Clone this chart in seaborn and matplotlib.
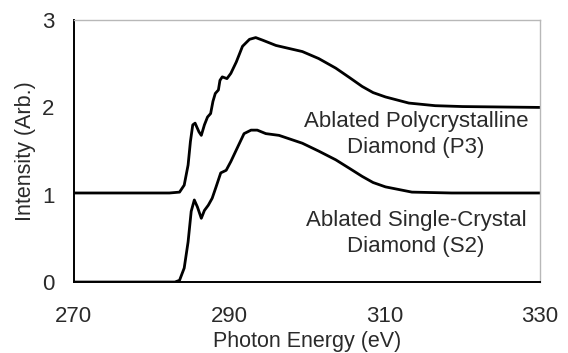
import pandas as pd
import seaborn as sns
import matplotlib.pyplot as plt

sns.set_style("white")
plt.rcParams['font.family'] = ['Liberation Sans', 'DejaVu Sans']

# Ablated polycrystalline diamond (P3), offset by +1
energy_p3 = [270, 282.3, 283.6, 284.2, 284.7, 285.0, 285.3, 285.6, 286.1, 286.4,
             286.8, 287.2, 287.6, 287.9, 288.2, 288.6, 288.8, 289.1, 289.7, 290.2,
             290.9, 291.7, 292.6, 293.4, 294.3, 296.0, 299.4, 301.5, 303.7, 305.5,
             307.1, 308.5, 310.1, 313.1, 316.5, 320, 330]
intensity_p3 = [1.02, 1.02, 1.03, 1.11, 1.34, 1.61, 1.80, 1.82, 1.72, 1.68,
                1.80, 1.89, 1.93, 2.07, 2.16, 2.20, 2.31, 2.35, 2.33, 2.39,
                2.52, 2.70, 2.78, 2.80, 2.77, 2.71, 2.64, 2.56, 2.45, 2.34,
                2.24, 2.17, 2.12, 2.05, 2.02, 2.01, 2.00]

# Ablated single-crystal diamond (S2)
energy_s2 = [270, 283.0, 283.6, 284.2, 284.7, 285.1, 285.5, 285.9, 286.4, 286.8,
             287.3, 287.8, 288.3, 288.9, 289.6, 290.2, 291.1, 291.9, 292.8, 293.6,
             294.7, 296.4, 299.4, 301.5, 303.7, 305.5, 307.1, 308.5, 310.1, 313.5,
             318.6, 330]
intensity_s2 = [0.0, 0.0, 0.02, 0.16, 0.46, 0.81, 0.94, 0.86, 0.73, 0.82,
                0.88, 0.96, 1.09, 1.25, 1.28, 1.38, 1.55, 1.70, 1.74, 1.74,
                1.70, 1.68, 1.59, 1.50, 1.40, 1.30, 1.21, 1.14, 1.09, 1.03,
                1.02, 1.02]

x_ticks = [270, 290, 310, 330]
y_ticks = [0, 1, 2, 3]

p3 = pd.DataFrame({"energy": energy_p3, "intensity": intensity_p3})
s2 = pd.DataFrame({"energy": energy_s2, "intensity": intensity_s2})

txt = "#2a2a2a"
fig = plt.figure(figsize=(5.68, 3.53), dpi=100)
ax = fig.add_axes([0.130, 0.201, 0.821, 0.742])

for df in [p3, s2]:
    sns.lineplot(data=df, x="energy", y="intensity", color="black", linewidth=2.0,
                 solid_joinstyle="round", solid_capstyle="round", ax=ax)

ax.set_xlim(270, 330)
ax.set_ylim(0, 3)
ax.set_xticks(x_ticks)
ax.set_yticks(y_ticks)
ax.tick_params(axis="x", direction="out", length=4, width=1, pad=13, labelsize=16, colors=txt)
ax.tick_params(axis="y", direction="out", length=4, width=1, pad=10, labelsize=16, colors=txt)
ax.tick_params(axis="both", color="black")

for side in ["left", "bottom"]:
    ax.spines[side].set_color("black")
    ax.spines[side].set_linewidth(1.4)
for side in ["top", "right"]:
    ax.spines[side].set_color("#b8b8b8")
    ax.spines[side].set_linewidth(1.0)

ax.set_xlabel("Photon Energy (eV)", fontsize=15.5, color=txt, labelpad=3)
ax.set_ylabel("Intensity (Arb.)", fontsize=15.5, color=txt, labelpad=4)

ax.text(314, 1.69, "Ablated Polycrystalline\nDiamond (P3)", ha="center", va="center",
        fontsize=16, color=txt, linespacing=1.3)
ax.text(314, 0.56, "Ablated Single-Crystal\nDiamond (S2)", ha="center", va="center",
        fontsize=16, color=txt, linespacing=1.3)

fig.savefig("out.png", dpi=100)
